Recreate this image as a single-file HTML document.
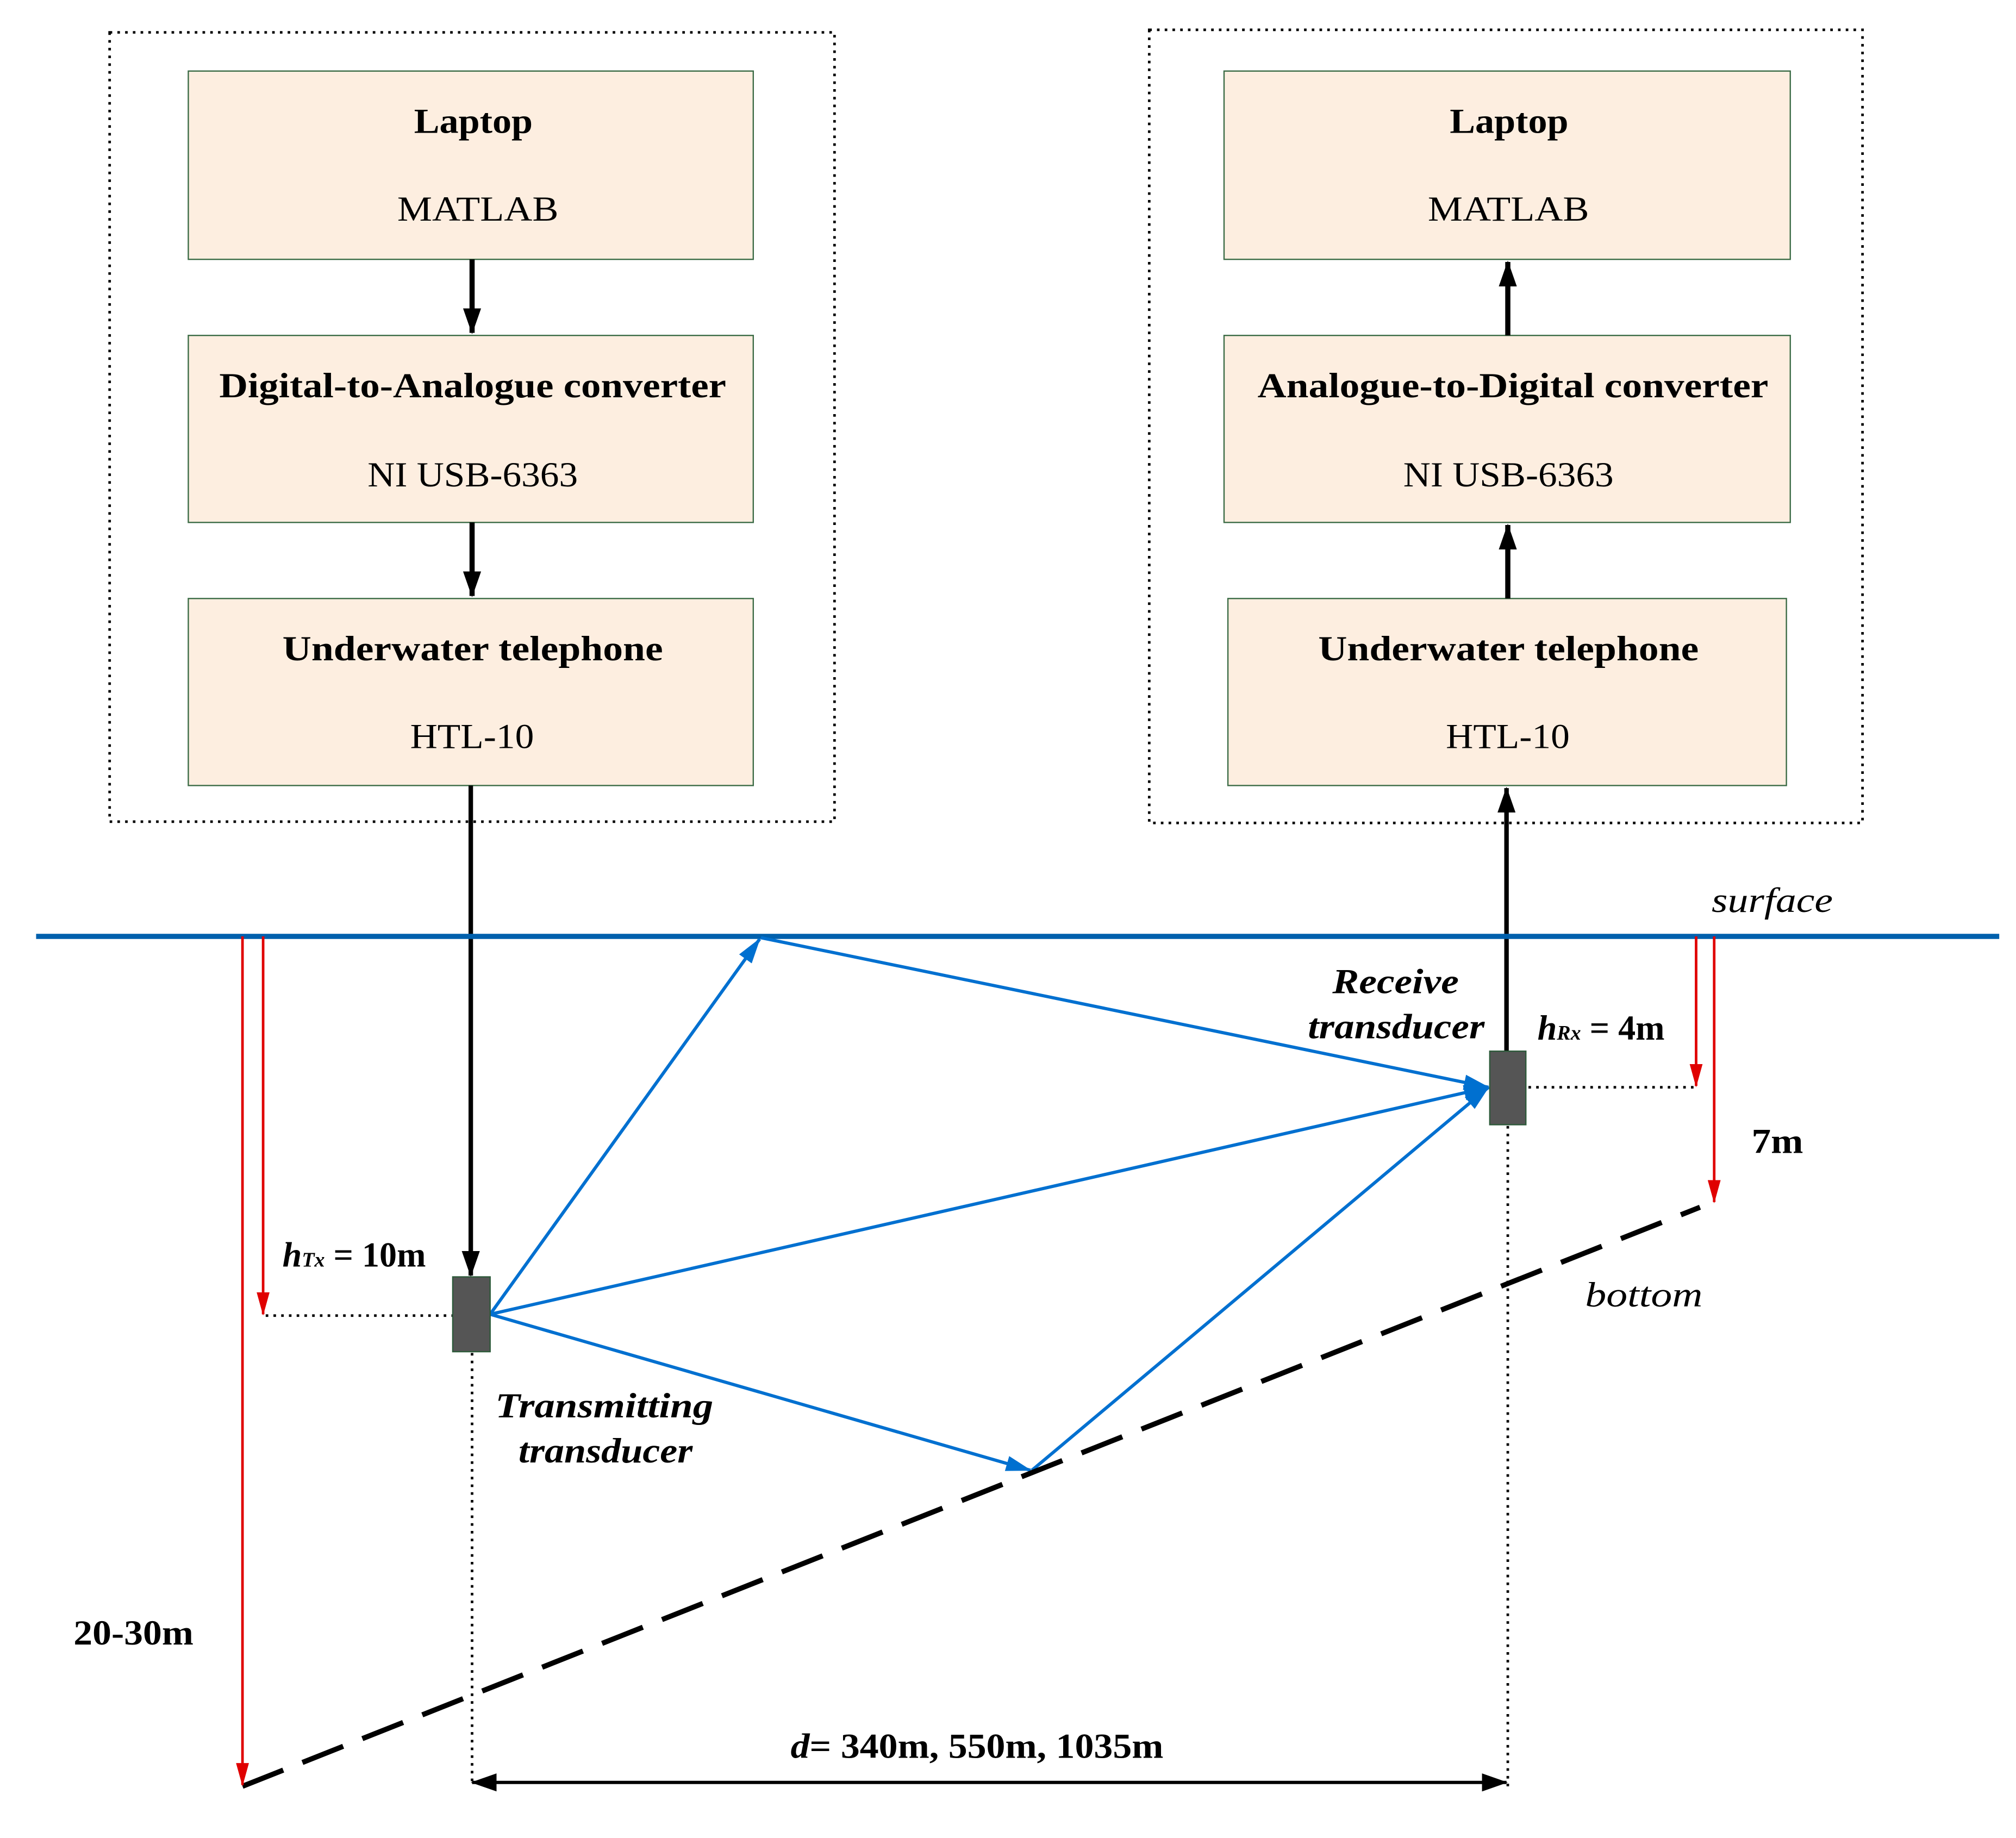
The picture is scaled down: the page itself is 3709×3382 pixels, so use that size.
<!DOCTYPE html>
<html><head><meta charset="utf-8"><style>html,body{margin:0;padding:0;background:#fff}svg{display:block}</style></head>
<body>
<svg width="3709" height="3382" viewBox="0 0 1563 1425" xmlns="http://www.w3.org/2000/svg" font-family="Liberation Serif, serif">
<defs>
<marker id="ak2" markerWidth="20" markerHeight="14" refX="19" refY="7" orient="auto-start-reverse" markerUnits="userSpaceOnUse"><path d="M0,0 L20,7 L0,14 Z" fill="#000"/></marker>
<marker id="ab" markerWidth="20" markerHeight="12" refX="19" refY="6" orient="auto" markerUnits="userSpaceOnUse"><path d="M0,0 L20,6 L0,12 Z" fill="#0070d0"/></marker>
<marker id="ar" markerWidth="18" markerHeight="10" refX="17" refY="5" orient="auto" markerUnits="userSpaceOnUse"><path d="M0,0 L18,5 L0,10 Z" fill="#e00000"/></marker>
</defs>
<g fill="none" stroke="#000" stroke-width="2" stroke-dasharray="2,4">
<rect x="85" y="25" width="562" height="612"/>
<rect x="891" y="23" width="553" height="615"/>
</g>
<g fill="#fdeee0" stroke="#3b6b45" stroke-width="1">
<rect x="146" y="55" width="438" height="146"/>
<rect x="146" y="260" width="438" height="145"/>
<rect x="146" y="464" width="438" height="145"/>
<rect x="949" y="55" width="439" height="146"/>
<rect x="949" y="260" width="439" height="145"/>
<rect x="952" y="464" width="433" height="145"/>
</g>
<g font-size="27" fill="#000">
<text x="321" y="103" font-weight="bold" textLength="92" lengthAdjust="spacingAndGlyphs">Laptop</text>
<text x="308" y="171" textLength="125" lengthAdjust="spacingAndGlyphs">MATLAB</text>
<text x="170" y="308" font-weight="bold" textLength="393" lengthAdjust="spacingAndGlyphs">Digital-to-Analogue converter</text>
<text x="285" y="377" textLength="163" lengthAdjust="spacingAndGlyphs">NI USB-6363</text>
<text x="219" y="512" font-weight="bold" textLength="295" lengthAdjust="spacingAndGlyphs">Underwater telephone</text>
<text x="318" y="580" textLength="96" lengthAdjust="spacingAndGlyphs">HTL-10</text>
<text x="1124" y="103" font-weight="bold" textLength="92" lengthAdjust="spacingAndGlyphs">Laptop</text>
<text x="1107" y="171" textLength="125" lengthAdjust="spacingAndGlyphs">MATLAB</text>
<text x="975" y="308" font-weight="bold" textLength="396" lengthAdjust="spacingAndGlyphs">Analogue-to-Digital converter</text>
<text x="1088" y="377" textLength="163" lengthAdjust="spacingAndGlyphs">NI USB-6363</text>
<text x="1022" y="512" font-weight="bold" textLength="295" lengthAdjust="spacingAndGlyphs">Underwater telephone</text>
<text x="1121" y="580" textLength="96" lengthAdjust="spacingAndGlyphs">HTL-10</text>
</g>
<g stroke="#000" stroke-width="4">
<line x1="366" y1="201" x2="366" y2="258" marker-end="url(#ak2)"/>
<line x1="366" y1="405" x2="366" y2="462" marker-end="url(#ak2)"/>
<line x1="1169" y1="260" x2="1169" y2="203" marker-end="url(#ak2)"/>
<line x1="1169" y1="464" x2="1169" y2="407" marker-end="url(#ak2)"/>
<line x1="365" y1="609" x2="365" y2="989" stroke-width="3.5" marker-end="url(#ak2)"/>
<line x1="1168" y1="815" x2="1168" y2="611" stroke-width="3.5" marker-end="url(#ak2)"/>
</g>
<line x1="28" y1="726" x2="1550" y2="726" stroke="#0060ad" stroke-width="4"/>
<g stroke="#0070d0" stroke-width="2.5" fill="none">
<line x1="380" y1="1019" x2="589" y2="728" marker-end="url(#ab)"/>
<line x1="590" y1="727" x2="1154" y2="843" marker-end="url(#ab)"/>
<line x1="380" y1="1019" x2="1154" y2="843" marker-end="url(#ab)"/>
<line x1="380" y1="1019" x2="799" y2="1140" marker-end="url(#ab)"/>
<line x1="800" y1="1140" x2="1154" y2="843" marker-end="url(#ab)"/>
</g>
<line x1="188" y1="1385" x2="1318" y2="936" stroke="#000" stroke-width="4" stroke-dasharray="34,16"/>
<g stroke="#e00000" stroke-width="2">
<line x1="188" y1="726" x2="188" y2="1384" marker-end="url(#ar)"/>
<line x1="204" y1="726" x2="204" y2="1019" marker-end="url(#ar)"/>
<line x1="1315" y1="726" x2="1315" y2="842" marker-end="url(#ar)"/>
<line x1="1329" y1="726" x2="1329" y2="932" marker-end="url(#ar)"/>
</g>
<g stroke="#000" stroke-width="2" stroke-dasharray="2,4">
<line x1="206" y1="1020" x2="351" y2="1020"/>
<line x1="1185" y1="843" x2="1315" y2="843"/>
<line x1="366" y1="1049" x2="366" y2="1385"/>
<line x1="1169" y1="873" x2="1169" y2="1385"/>
</g>
<rect x="351" y="990" width="29" height="58" fill="#555" stroke="#2d5a3a" stroke-width="1"/>
<rect x="1155" y="815" width="28" height="57" fill="#555" stroke="#2d5a3a" stroke-width="1"/>
<line x1="366" y1="1382" x2="1168" y2="1382" stroke="#000" stroke-width="2.5" marker-start="url(#ak2)" marker-end="url(#ak2)"/>
<g font-size="27" fill="#000">
<text x="1327" y="707" font-style="italic" textLength="94" lengthAdjust="spacingAndGlyphs">surface</text>
<text x="1229" y="1013" font-style="italic" textLength="91" lengthAdjust="spacingAndGlyphs">bottom</text>
<text x="1033" y="770" font-style="italic" font-weight="bold" textLength="98" lengthAdjust="spacingAndGlyphs">Receive</text>
<text x="1014" y="805" font-style="italic" font-weight="bold" textLength="137" lengthAdjust="spacingAndGlyphs">transducer</text>
<text x="384" y="1099" font-style="italic" font-weight="bold" textLength="169" lengthAdjust="spacingAndGlyphs">Transmitting</text>
<text x="402" y="1134" font-style="italic" font-weight="bold" textLength="135" lengthAdjust="spacingAndGlyphs">transducer</text>
<text x="1192" y="806" font-weight="bold"><tspan font-style="italic">h</tspan><tspan font-size="16" font-style="italic">Rx</tspan> = 4m</text>
<text x="219" y="982" font-weight="bold"><tspan font-style="italic">h</tspan><tspan font-size="16" font-style="italic">Tx</tspan> = 10m</text>
<text x="1358" y="894" font-weight="bold" textLength="40" lengthAdjust="spacingAndGlyphs">7m</text>
<text x="57" y="1275" font-weight="bold" textLength="93" lengthAdjust="spacingAndGlyphs">20-30m</text>
<text x="613" y="1363" font-weight="bold" textLength="289" lengthAdjust="spacingAndGlyphs"><tspan font-style="italic">d</tspan>= 340m, 550m, 1035m</text>
</g>
</svg>
</body></html>
